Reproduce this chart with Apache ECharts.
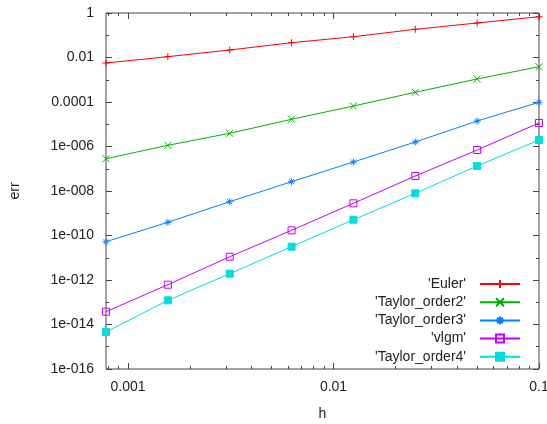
<!DOCTYPE html>
<html>
<head>
<meta charset="utf-8">
<script src="https://cdn.jsdelivr.net/npm/echarts@6/dist/echarts.min.js"></script>
<style>
html,body{margin:0;padding:0;background:#fff;}
#chart{width:547px;height:424px;}
</style>
</head>
<body>
<div id="chart"></div>
<script>
// ---- data ----
var hValues = [0.00078125, 0.0015625, 0.003125, 0.00625, 0.0125, 0.025, 0.05, 0.1];
var euler = [5.66e-3, 1.09e-2, 2.17e-2, 4.62e-2, 8.6e-2, 0.185, 0.356, 0.682];
var taylor2 = [2.83e-7, 1.13e-6, 3.92e-6, 1.67e-5, 6.6e-5, 2.73e-4, 1.08e-3, 3.86e-3];
var taylor3 = [5.26e-11, 3.92e-10, 3.30e-9, 2.62e-8, 2.01e-7, 1.59e-6, 1.40e-5, 9.7e-5];
var vlgm = [3.76e-14, 6.15e-13, 1.11e-11, 1.71e-10, 2.80e-9, 4.72e-8, 6.97e-7, 1.14e-5];
var taylor4 = [4.6e-15, 1.22e-13, 1.92e-12, 3.14e-11, 5.13e-10, 7.89e-9, 1.33e-7, 1.96e-6];
var seriesNames = ["'Euler'", "'Taylor_order2'", "'Taylor_order3'", "'vlgm'", "'Taylor_order4'"];

var xTickValues = [0.001, 0.01, 0.1];
var xTickLabels = ['0.001', '0.01', '0.1'];
var xMinorTicks = [0.0008, 0.0009, 0.002, 0.003, 0.004, 0.005, 0.006, 0.007, 0.008, 0.009,
                   0.02, 0.03, 0.04, 0.05, 0.06, 0.07, 0.08, 0.09];
var yTickValues = [1, 1e-2, 1e-4, 1e-6, 1e-8, 1e-10, 1e-12, 1e-14, 1e-16];
var yTickLabels = ['1', '0.01', '0.0001', '1e-006', '1e-008', '1e-010', '1e-012', '1e-014', '1e-016'];
var yMinorTicks = [1e-1, 1e-3, 1e-5, 1e-7, 1e-9, 1e-11, 1e-13, 1e-15];

var xMin = 0.00078125, xMax = 0.1, yMin = 1e-16, yMax = 1;

function labelFor(values, labels) {
  return function (v) {
    var e = Math.log10(v);
    for (var i = 0; i < values.length; i++) {
      if (Math.abs(Math.log10(values[i]) - e) < 1e-6) return labels[i];
    }
    return '';
  };
}

var font = 'Liberation Sans, Arial, sans-serif';
var axisColor = '#444';
var textColor = '#222';

function makeX(pos, ticks, len, withLabels) {
  var ax = {
    type: 'log', logBase: 10, min: xMin, max: xMax, position: pos, gridIndex: 0,
    axisLine: {show: false},
    splitLine: {show: false},
    axisTick: {show: true, inside: true, length: len, customValues: ticks,
               lineStyle: {color: axisColor, width: 1}},
    axisLabel: {show: false}
  };
  if (withLabels) {
    ax.axisLabel = {show: true, customValues: xTickValues, margin: 11,
      formatter: labelFor(xTickValues, xTickLabels),
      color: textColor, fontFamily: font, fontSize: 14};
    ax.name = 'h';
    ax.nameLocation = 'middle';
    ax.nameGap = 38;
    ax.nameTextStyle = {color: textColor, fontFamily: font, fontSize: 14};
  }
  return ax;
}
function makeY(pos, ticks, len, withLabels) {
  var ax = {
    type: 'log', logBase: 10, min: yMin, max: yMax, position: pos, gridIndex: 0,
    axisLine: {show: false},
    splitLine: {show: false},
    axisTick: {show: true, inside: true, length: len, customValues: ticks,
               lineStyle: {color: axisColor, width: 1}},
    axisLabel: {show: false}
  };
  if (withLabels) {
    ax.axisLabel = {show: true, customValues: yTickValues, margin: 12,
      formatter: labelFor(yTickValues, yTickLabels),
      color: textColor, fontFamily: font, fontSize: 14};
    ax.name = 'err';
    ax.nameLocation = 'middle';
    ax.nameGap = 84;
    ax.nameRotate = 90;
    ax.nameTextStyle = {color: textColor, fontFamily: font, fontSize: 14};
  }
  return ax;
}

var colors = ['#ff0000', '#00b000', '#0080ff', '#c000ff', '#00dddd'];
var symbols = [
  'path://M5,0L5,10M0,5L10,5',
  'path://M0,0L10,10M10,0L0,10',
  'path://M5,0L5,10M0,5L10,5M1.5,1.5L8.5,8.5M8.5,1.5L1.5,8.5',
  'path://M0,0L10,0L10,10L0,10Z',
  'rect'
];
var dataSets = [euler, taylor2, taylor3, vlgm, taylor4];

function pairs(ys) {
  return hValues.map(function (h, i) { return [h, ys[i]]; });
}

var series = dataSets.map(function (ys, i) {
  var filled = (i === 4);
  return {
    name: seriesNames[i],
    type: 'line',
    xAxisIndex: 0, yAxisIndex: 0,
    data: pairs(ys),
    symbol: symbols[i],
    symbolSize: 7,
    showAllSymbol: true,
    lineStyle: {color: colors[i], width: 1},
    itemStyle: {color: filled ? colors[i] : 'rgba(0,0,0,0)', borderColor: colors[i], borderWidth: 1},
    emphasis: {disabled: true},
    z: 3
  };
});

var chart = echarts.init(document.getElementById('chart'), null, {renderer: 'canvas'});
chart.setOption({
  animation: false,
  backgroundColor: '#fff',
  grid: {left: 106, right: 8, top: 13, bottom: 55, containLabel: false, outerBoundsMode: 'none',
         show: true, borderColor: axisColor, borderWidth: 1, backgroundColor: 'transparent'},
  xAxis: [
    makeX('bottom', xTickValues, 6, true),
    makeX('bottom', xMinorTicks, 3, false),
    makeX('top', xTickValues, 6, false),
    makeX('top', xMinorTicks, 3, false)
  ],
  yAxis: [
    makeY('left', yTickValues, 6, true),
    makeY('left', yMinorTicks, 3, false),
    makeY('right', yTickValues, 6, false),
    makeY('right', yMinorTicks, 3, false)
  ],
  legend: {
    show: true,
    orient: 'vertical',
    align: 'right',
    right: 26,
    top: 277,
    padding: 0,
    itemWidth: 40,
    itemHeight: 10,
    itemGap: 4.2,
    selectedMode: false,
    data: seriesNames,
    textStyle: {color: textColor, fontFamily: font, fontSize: 14, padding: [0, 9, 0, 0]}
  },
  series: series
});
</script>
</body>
</html>
